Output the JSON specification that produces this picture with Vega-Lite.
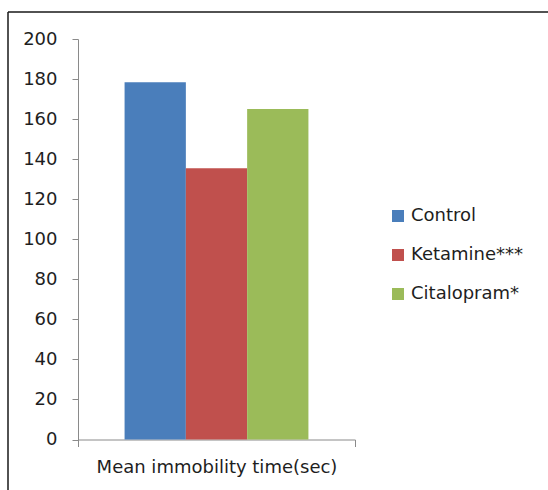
{
  "$schema": "https://vega.github.io/schema/vega-lite/v6.json",
  "autosize": {"type": "none"},
  "padding": {"left": 8, "top": 12, "right": 0, "bottom": 0},
  "width": 540,
  "height": 478,
  "background": "white",
  "config": {
    "font": "DejaVu Sans",
    "view": {"stroke": "#1a1a1a", "strokeWidth": 1.5, "strokeDash": [540, 1018, 478, 0]}
  },
  "data": {
    "values": [
      {"group": "Mean immobility time(sec)", "series": "Control", "value": 178.4},
      {"group": "Mean immobility time(sec)", "series": "Ketamine***", "value": 135.4},
      {"group": "Mean immobility time(sec)", "series": "Citalopram*", "value": 165.0}
    ]
  },
  "mark": {"type": "bar"},
  "encoding": {
    "x": {
      "field": "group",
      "type": "nominal",
      "scale": {"range": [70, 347], "paddingInner": 0, "paddingOuter": 0},
      "axis": {
        "title": null,
        "labelAngle": 0,
        "labelLimit": 0,
        "offset": -50.5,
        "tickBand": "extent",
        "domainColor": "#8a8a8a",
        "tickColor": "#8a8a8a",
        "tickSize": 7,
        "labelFontSize": 18,
        "labelColor": "#1e1e1e",
        "labelPadding": 12
      }
    },
    "xOffset": {
      "field": "series",
      "type": "nominal",
      "sort": ["Control", "Ketamine***", "Citalopram*"],
      "scale": {"paddingInner": 0, "paddingOuter": 0.76}
    },
    "y": {
      "field": "value",
      "type": "quantitative",
      "scale": {"domain": [0, 200], "range": [427.5, 27], "nice": false},
      "axis": {
        "title": null,
        "grid": false,
        "values": [0, 20, 40, 60, 80, 100, 120, 140, 160, 180, 200],
        "offset": -70,
        "domainColor": "#8a8a8a",
        "tickColor": "#8a8a8a",
        "tickSize": 6,
        "labelFontSize": 18,
        "labelColor": "#1e1e1e",
        "labelPadding": 15
      }
    },
    "color": {
      "field": "series",
      "type": "nominal",
      "sort": ["Control", "Ketamine***", "Citalopram*"],
      "scale": {
        "domain": ["Control", "Ketamine***", "Citalopram*"],
        "range": ["#4a7ebb", "#c0504d", "#9bbb59"]
      },
      "legend": {
        "title": null,
        "orient": "none",
        "legendX": 381,
        "legendY": 195,
        "padding": 0,
        "symbolType": "square",
        "symbolSize": 144,
        "symbolStrokeWidth": 0,
        "labelFontSize": 18,
        "labelColor": "#1e1e1e",
        "labelOffset": 4,
        "rowPadding": 21
      }
    }
  }
}
